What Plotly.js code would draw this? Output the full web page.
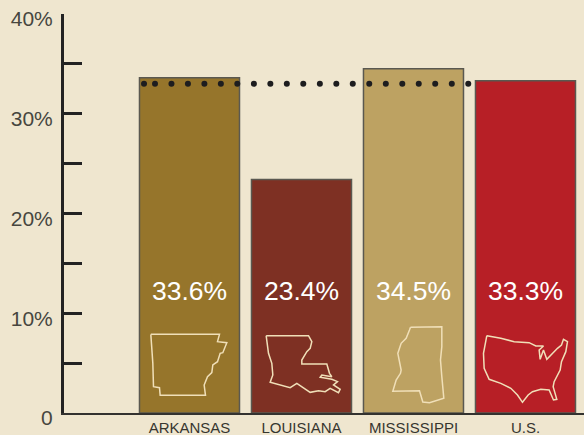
<!DOCTYPE html>
<html>
<head>
<meta charset="utf-8">
<script src="https://cdn.plot.ly/plotly-3.0.1.min.js"></script>
<style>html,body{margin:0;padding:0;background:#efe6cf}</style>
</head>
<body>
<div id="chart" style="width:584px;height:435px"></div>
<script>
// Share of adults, by place
const categories = ['ARKANSAS', 'LOUISIANA', 'MISSISSIPPI', 'U.S.'];
const values = [33.6, 23.4, 34.5, 33.3];
const barColors = ['#96752b', '#7e3023', '#bda262', '#b71f26'];

const yTicks = [0, 5, 10, 15, 20, 25, 30, 35, 40];
const yTickLabels = ['0', '', '10%', '', '20%', '', '30%', '', '40%'];

// Reference line of dots across the bars
const referenceLevel = 33.0;
const dotSlots = [-0.406, -0.308, -0.161, -0.014, 0.133, 0.28, 0.427, 0.575, 0.722, 0.869,
                  1.016, 1.164, 1.311, 1.458, 1.605, 1.753, 1.9, 2.047, 2.194, 2.342, 2.489];

// State and country outlines, on a grid of 1/3 pixel: x from the bar centre, y from the axis floor
const arkansas = [[-116,236],[90,236],[84,214],[112,211],[100,181],[92,179],[84,154],[70,144],[67,121],[54,109],[44,84],[48,53],[-88,53],[-90,76],[-108,79],[-110,149],[-116,236]];
const louisiana = [[-106,232],[21,232],[31,214],[26,194],[16,184],[1,159],[1,147],[76,147],[84,119],[91,109],[61,114],[56,107],[91,101],[108,94],[96,84],[116,71],[111,61],[86,74],[71,64],[51,67],[26,62],[1,79],[-14,89],[-34,76],[-64,84],[-94,92],[-86,114],[-89,149],[-99,179],[-104,209],[-106,232]];
const mississippi = [[-9,257],[85,259],[85,199],[81,159],[85,109],[91,44],[48,31],[28,33],[18,67],[-62,65],[-52,99],[-39,119],[-37,129],[-47,179],[-37,209],[-22,224],[-12,249],[-9,257]];
const usa = [[-116,232],[-74,224],[-34,214],[11,211],[31,201],[54,201],[41,189],[44,161],[54,189],[64,161],[96,194],[108,204],[114,221],[126,214],[121,184],[108,154],[104,129],[86,94],[83,79],[94,41],[84,39],[71,69],[46,71],[21,64],[8,54],[-9,32],[-24,54],[-44,74],[-74,89],[-109,101],[-124,134],[-126,179],[-116,232]];
const outlines = [arkansas, louisiana, mississippi, usa];

const PX_PER_SLOT = 112;
const PX_PER_PERCENT = 9.975;

const slots = categories.map((_, i) => i);

const traces = [
  {
    type: 'bar', x: slots, y: values, width: 0.893,
    marker: {color: barColors, line: {color: '#5a5850', width: 1.5}},
    hoverinfo: 'skip', showlegend: false
  },
  {
    type: 'scatter', mode: 'markers', x: dotSlots,
    y: dotSlots.map(() => referenceLevel),
    marker: {color: '#1d1d1f', size: 6},
    hoverinfo: 'skip', showlegend: false
  },
  {
    type: 'scatter', mode: 'text', x: slots, y: values.map(() => 12.0),
    text: values.map(v => v.toFixed(1) + '%'),
    textposition: 'middle center',
    textfont: {family: 'Liberation Sans, Arial, sans-serif', size: 26.5, color: '#ffffff'},
    hoverinfo: 'skip', showlegend: false
  }
];

outlines.forEach((points, i) => {
  traces.push({
    type: 'scatter', mode: 'lines',
    x: points.map(p => i + p[0] / 3 / PX_PER_SLOT),
    y: points.map(p => p[1] / 3 / PX_PER_PERCENT),
    line: {color: '#f0dfb8', width: 1.5},
    hoverinfo: 'skip', showlegend: false
  });
});

const layout = {
  width: 584, height: 435,
  margin: {l: 64, r: 0, t: 14, b: 22},
  paper_bgcolor: '#efe6cf', plot_bgcolor: '#efe6cf',
  showlegend: false,
  xaxis: {
    range: [-1.1205, 3.5225], fixedrange: true,
    tickmode: 'array', tickvals: slots, ticktext: categories,
    ticks: '', showgrid: false, zeroline: false,
    showline: true, linecolor: '#33322f', linewidth: 2,
    tickfont: {family: 'Liberation Sans, Arial, sans-serif', size: 15, color: '#37362f'},
    automargin: false
  },
  yaxis: {
    range: [0, 40], fixedrange: true,
    tickmode: 'array', tickvals: yTicks, ticktext: yTickLabels,
    ticks: 'inside', ticklen: 18, tickwidth: 3, tickcolor: '#232323',
    showgrid: false, zeroline: false,
    showline: true, linecolor: '#232323', linewidth: 3,
    ticklabelstandoff: 4, ticklabelshift: 5,
    tickfont: {family: 'Liberation Sans, Arial, sans-serif', size: 21, color: '#47463f'},
    automargin: false
  }
};

Plotly.newPlot('chart', traces, layout, {displayModeBar: false, staticPlot: true});
</script>
</body>
</html>
